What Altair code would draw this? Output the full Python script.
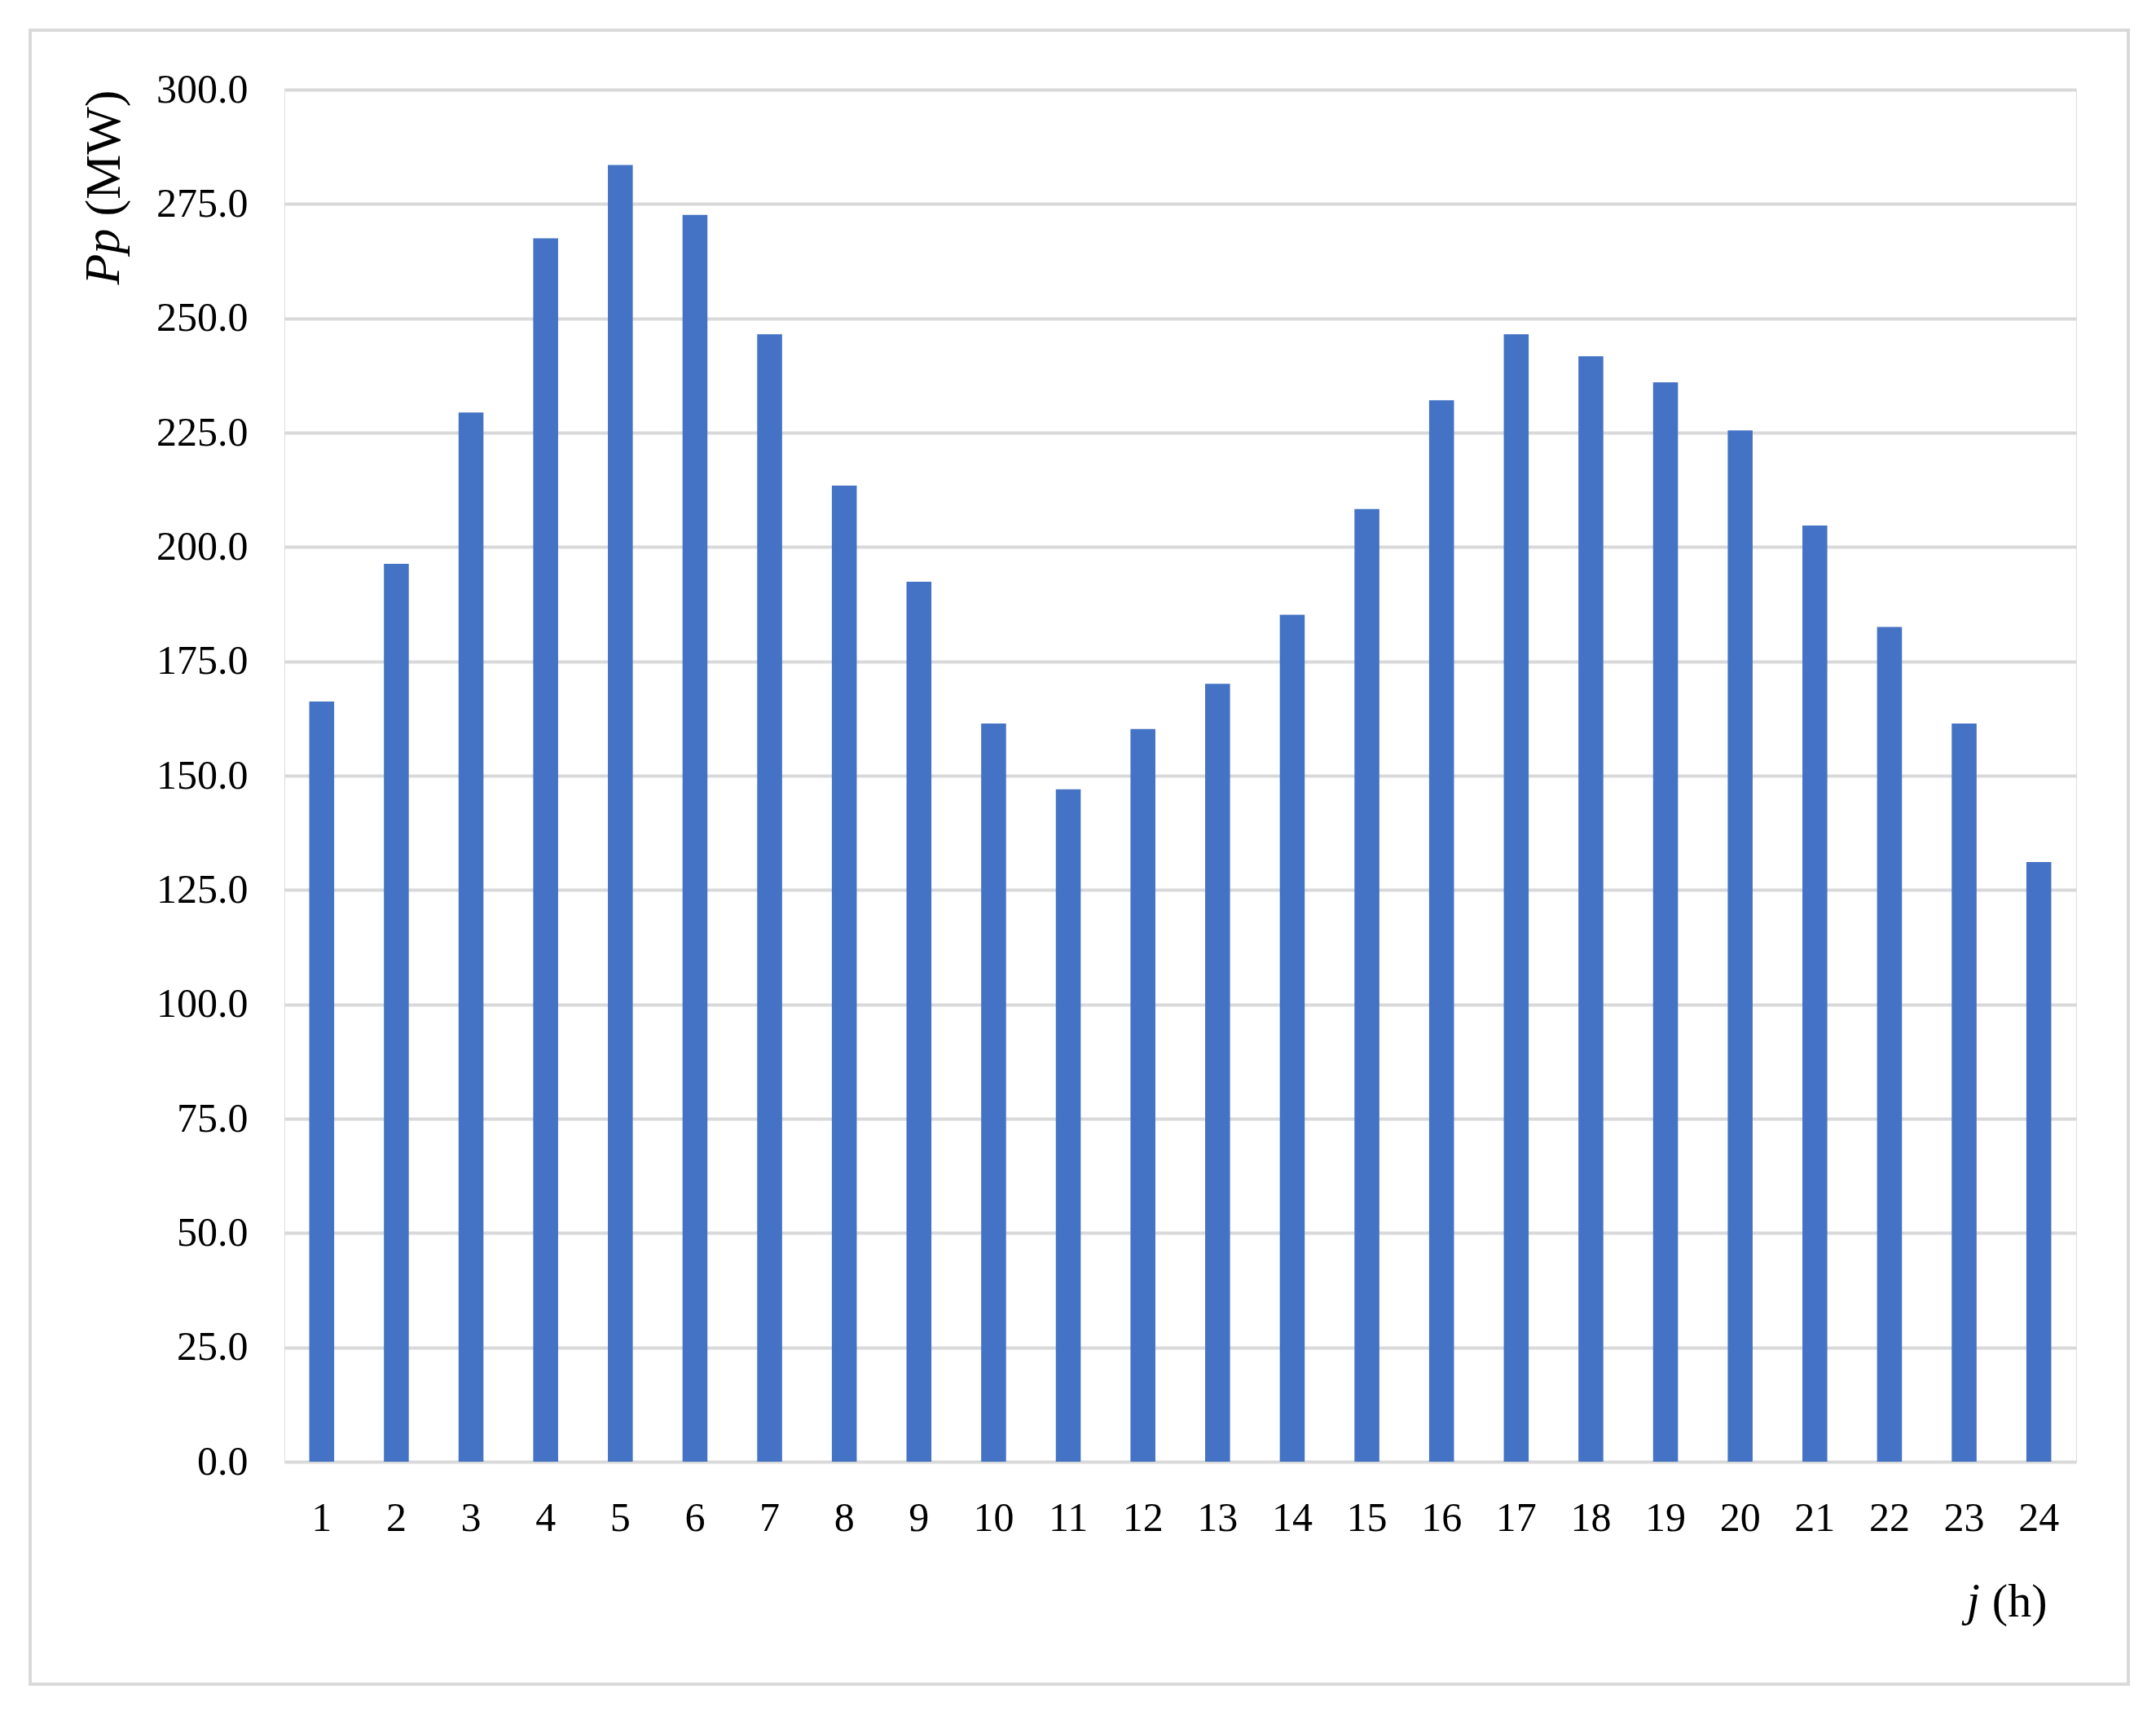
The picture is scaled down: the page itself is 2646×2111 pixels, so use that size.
import altair as alt
import pandas as pd

hours = [str(h) for h in range(1, 25)]
power = [166.2, 196.3, 229.4, 267.5, 283.5, 272.6, 246.5, 213.4, 192.4, 161.4, 147.0, 160.2,
         170.1, 185.2, 208.3, 232.1, 246.5, 241.7, 236.0, 225.5, 204.7, 182.5, 161.4, 131.1]
y_ticks = [0, 25, 50, 75, 100, 125, 150, 175, 200, 225, 250, 275, 300]

df = pd.DataFrame({"hour": hours, "power": power})

W, H = 2199, 1684
FONT = "Liberation Serif"
YT_SIZE = 62
XT_SIZE = 58

bars = alt.Chart(df).mark_bar(color="#4472C4").encode(
    x=alt.X("hour:N", sort=hours,
            scale=alt.Scale(paddingInner=2/3, paddingOuter=1/3),
            axis=alt.Axis(title="(h)", labelAngle=0, ticks=False, domain=False,
                          labelFont=FONT, labelFontSize=50, labelColor="#000000",
                          labelPadding=44,
                          titleFont=FONT, titleFontSize=XT_SIZE, titleFontWeight="normal",
                          titleColor="#000000", titleAnchor="end", titleAlign="right",
                          titleBaseline="middle", titleX=W - 36, titleY=172)),
    y=alt.Y("power:Q",
            scale=alt.Scale(domain=[0, 300], nice=False),
            axis=alt.Axis(title="(MW)", values=y_ticks, format=".1f", ticks=False,
                          domain=False, grid=True, gridColor="#d9d9d9", gridWidth=4,
                          labelFont=FONT, labelFontSize=50, labelColor="#000000",
                          labelPadding=45,
                          titleFont=FONT, titleFontSize=YT_SIZE, titleFontWeight="normal",
                          titleColor="#000000", titleAngle=270, titleAlign="right",
                          titleBaseline="middle", titleX=-222, titleY=0)),
)

pp_label = alt.Chart(pd.DataFrame({"t": ["Pp"]})).mark_text(
    font=FONT, fontStyle="italic", fontSize=YT_SIZE, angle=270,
    align="right", baseline="middle", color="#000000"
).encode(text="t:N", x=alt.value(-222), y=alt.value(2.5 * YT_SIZE + 0.25 * YT_SIZE))

j_label = alt.Chart(pd.DataFrame({"t": ["j"]})).mark_text(
    font=FONT, fontStyle="italic", fontSize=XT_SIZE,
    align="right", baseline="middle", color="#000000"
).encode(text="t:N", x=alt.value(W - 36 - 1.166 * XT_SIZE - 0.25 * XT_SIZE),
         y=alt.value(H + 172))

frame = alt.Chart(pd.DataFrame({"t": [0]})).mark_rect(
    fill=None, stroke="#d9d9d9", strokeWidth=4
).encode(x=alt.value(-312), x2=alt.value(2263), y=alt.value(-73), y2=alt.value(1957))

chart = alt.layer(frame, bars, pp_label, j_label).properties(
    width=W, height=H,
    padding={"left": 341, "top": 102, "right": 80, "bottom": 290},
    autosize=alt.AutoSizeParams(type="none"),
).configure_view(stroke=None).configure(background="#ffffff")

chart.save("out.html", embed_options={"renderer": "svg", "actions": False})
